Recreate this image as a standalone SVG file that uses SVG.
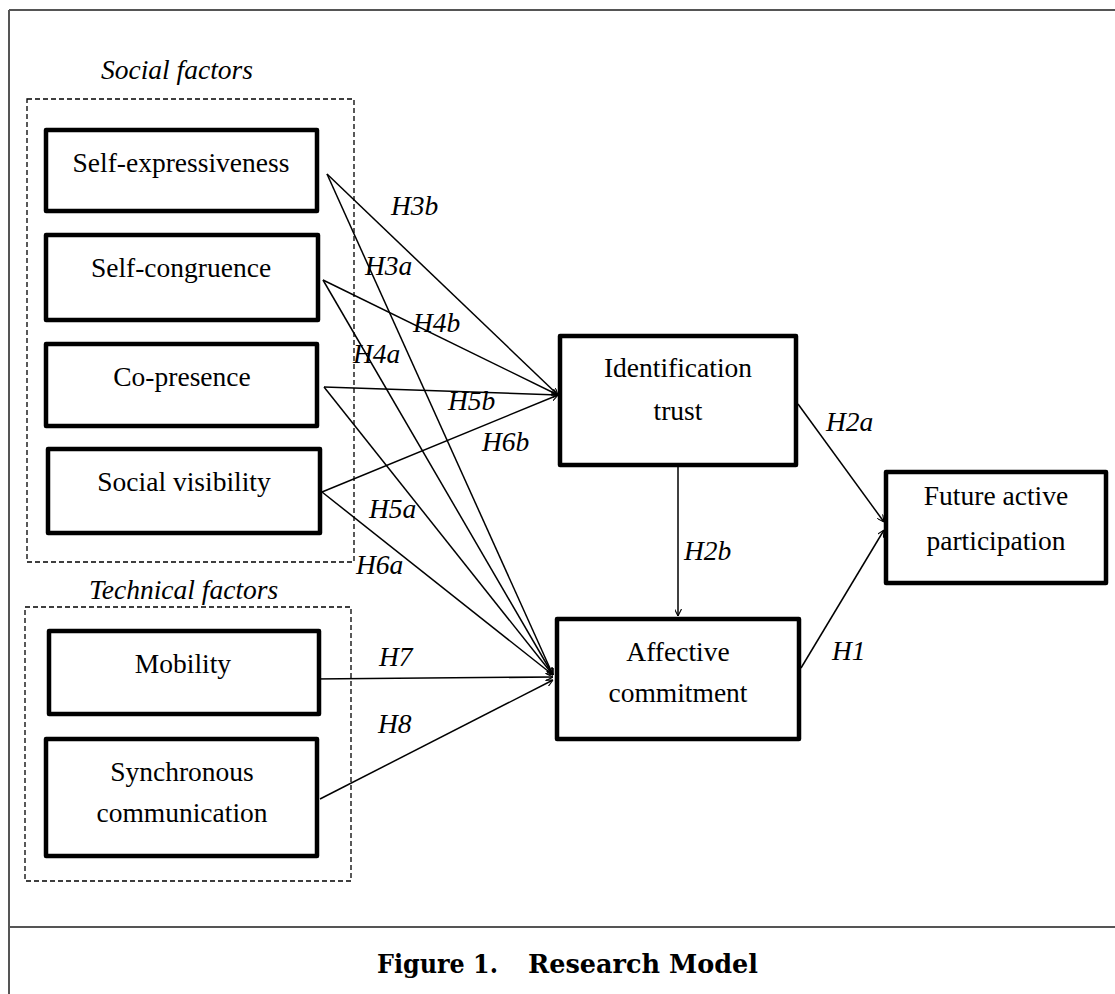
<svg xmlns="http://www.w3.org/2000/svg" width="1115" height="994" viewBox="0 0 1115 994">
<style>
.frame{stroke:#555;stroke-width:2;fill:none}
.grp{fill:none;stroke:#000;stroke-width:1.3;stroke-dasharray:5,3}
.box{fill:#fff;stroke:#000;stroke-width:4.5;stroke-linejoin:round}
.t{font-family:"Liberation Serif","Times New Roman",serif;font-size:27.5px;fill:#000;text-anchor:middle}
.it{font-family:"Liberation Serif","Times New Roman",serif;font-size:27.5px;font-style:italic;fill:#000}
.cap{font-family:"DejaVu Serif",Georgia,serif;font-size:25.5px;font-weight:bold;fill:#000}
.c line{stroke:#000;stroke-width:1.5;marker-end:url(#ah)}
</style>
<defs>
<marker id="ah" viewBox="0 0 10 10" refX="10" refY="5" markerWidth="7" markerHeight="7" markerUnits="userSpaceOnUse" orient="auto">
<path d="M0,0 L10,5 L0,10" fill="none" stroke="#000" stroke-width="1.6"/>
</marker>
</defs>
<rect width="1115" height="994" fill="#fff"/>
<g id="frame">
<line class="frame" x1="9" y1="10" x2="1115" y2="10"/>
<line class="frame" x1="9" y1="10" x2="9" y2="994"/>
<line class="frame" x1="9" y1="927" x2="1115" y2="927"/>
</g>
<g id="social-factors">
<rect class="grp" x="27" y="99" width="327" height="463"/>
<text class="it" x="101" y="79">Social factors</text>
</g>
<g id="technical-factors">
<rect class="grp" x="25" y="607" width="326" height="274"/>
<text class="it" x="89" y="599">Technical factors</text>
</g>
<g class="c" id="connectors">
<line x1="327" y1="174" x2="558" y2="395"/>
<line x1="327" y1="174" x2="553" y2="675"/>
<line x1="323" y1="280" x2="558" y2="395"/>
<line x1="323" y1="280" x2="553" y2="675"/>
<line x1="324" y1="387" x2="558" y2="395"/>
<line x1="324" y1="387" x2="553" y2="675"/>
<line x1="322" y1="492" x2="558" y2="395"/>
<line x1="322" y1="492" x2="553" y2="675"/>
<line x1="313" y1="679" x2="553" y2="677"/>
<line x1="320" y1="799" x2="553" y2="680"/>
<line x1="678" y1="467" x2="678" y2="616"/>
<line x1="798" y1="404" x2="884" y2="522"/>
<line x1="801" y1="668" x2="884" y2="530"/>
</g>
<g id="labels">
<text class="it" x="391" y="215">H3b</text>
<text class="it" x="365" y="275">H3a</text>
<text class="it" x="413" y="332">H4b</text>
<text class="it" x="353" y="363">H4a</text>
<text class="it" x="448" y="410">H5b</text>
<text class="it" x="482" y="451">H6b</text>
<text class="it" x="369" y="518">H5a</text>
<text class="it" x="356" y="574">H6a</text>
<text class="it" x="379" y="666">H7</text>
<text class="it" x="378" y="733">H8</text>
<text class="it" x="826" y="431">H2a</text>
<text class="it" x="684" y="560">H2b</text>
<text class="it" x="832" y="660">H1</text>
</g>
<g id="n-self-expressiveness">
<rect class="box" x="46" y="130" width="271" height="81"/>
<text class="t" x="181" y="172">Self-expressiveness</text>
</g>
<g id="n-self-congruence">
<rect class="box" x="46" y="235" width="272" height="85"/>
<text class="t" x="181" y="277">Self-congruence</text>
</g>
<g id="n-co-presence">
<rect class="box" x="46" y="344" width="271" height="82"/>
<text class="t" x="182" y="386">Co-presence</text>
</g>
<g id="n-social-visibility">
<rect class="box" x="48" y="449" width="272" height="84"/>
<text class="t" x="184" y="491">Social visibility</text>
</g>
<g id="n-mobility">
<rect class="box" x="49" y="631" width="270" height="83"/>
<text class="t" x="183" y="673">Mobility</text>
</g>
<g id="n-synchronous">
<rect class="box" x="46" y="739" width="271" height="117"/>
<text class="t" x="182" y="781">Synchronous</text>
<text class="t" x="182" y="822">communication</text>
</g>
<g id="n-identification-trust">
<rect class="box" x="560" y="336" width="236" height="129"/>
<text class="t" x="678" y="377">Identification</text>
<text class="t" x="678" y="420">trust</text>
</g>
<g id="n-affective-commitment">
<rect class="box" x="557" y="619" width="242" height="120"/>
<text class="t" x="678" y="661">Affective</text>
<text class="t" x="678" y="702">commitment</text>
</g>
<g id="n-future-participation">
<rect class="box" x="886" y="472" width="220" height="111"/>
<text class="t" x="996" y="505">Future active</text>
<text class="t" x="996" y="550">participation</text>
</g>
<g id="caption">
<text class="cap" x="377" y="973" textLength="121" lengthAdjust="spacingAndGlyphs">Figure 1.</text>
<text class="cap" x="528" y="973" textLength="230" lengthAdjust="spacingAndGlyphs">Research Model</text>
</g>
</svg>
